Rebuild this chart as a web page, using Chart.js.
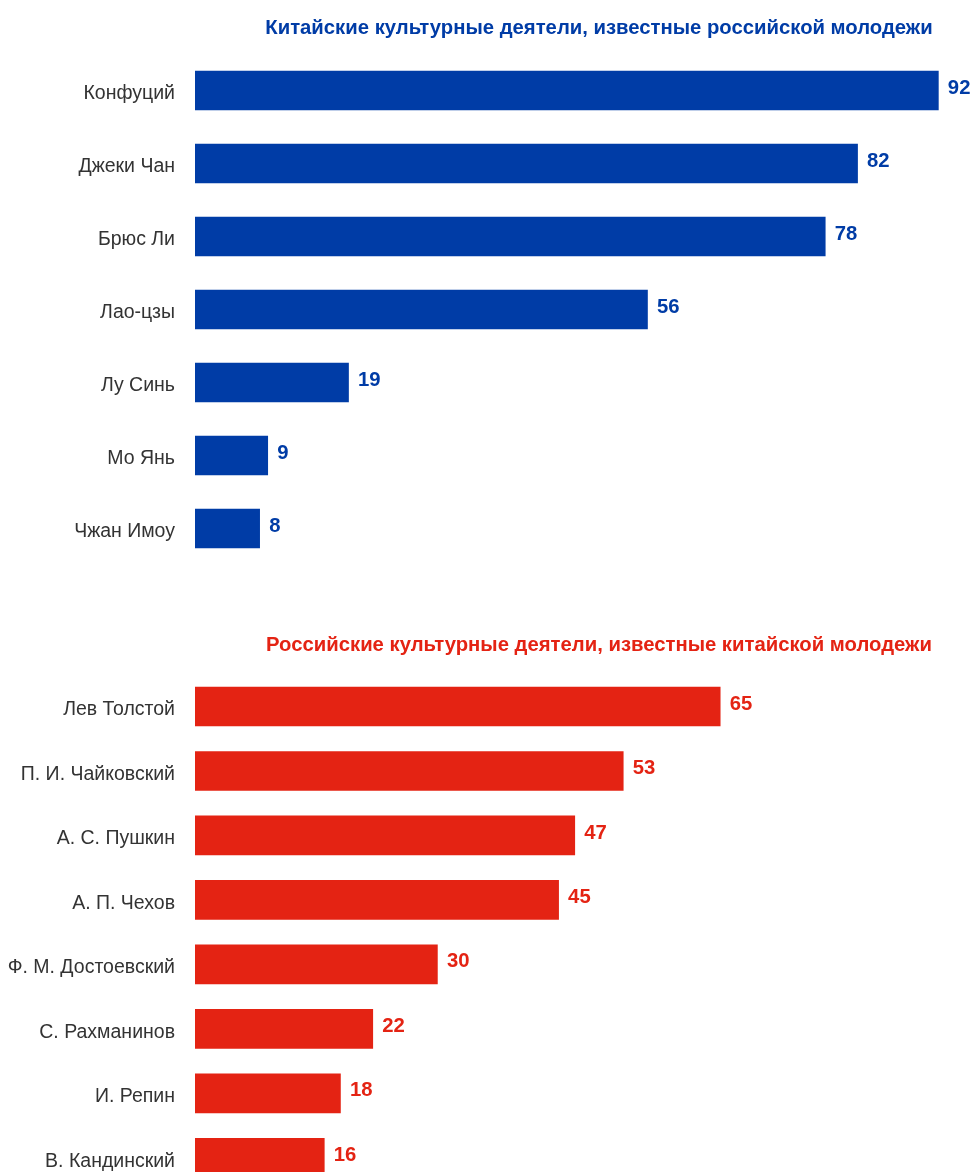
<!DOCTYPE html>
<html>
<head>
<meta charset="utf-8">
<script src="https://cdn.jsdelivr.net/npm/chart.js@4/dist/chart.umd.min.js"></script>
<style>
  html, body { margin: 0; padding: 0; background: #fff; }
  #wrap { width: 972px; height: 1172px; overflow: hidden; position: relative; }
  .box { width: 1010px; position: relative; }
  #topBox { height: 580px; }
  #bottomBox { height: 611px; }
</style>
</head>
<body>
<div id="wrap">
  <div class="box" id="topBox"><canvas id="topChart"></canvas></div>
  <div class="box" id="bottomBox"><canvas id="bottomChart"></canvas></div>
</div>
<script>
// данные
const topTitle = 'Китайские культурные деятели, известные российской молодежи';
const topNames = ['Конфуций', 'Джеки Чан', 'Брюс Ли', 'Лао-цзы', 'Лу Синь', 'Мо Янь', 'Чжан Имоу'];
const topValues = [92, 82, 78, 56, 19, 9, 8];

const bottomTitle = 'Российские культурные деятели, известные китайской молодежи';
const bottomNames = ['Лев Толстой', 'П. И. Чайковский', 'А. С. Пушкин', 'А. П. Чехов',
  'Ф. М. Достоевский', 'С. Рахманинов', 'И. Репин', 'В. Кандинский'];
const bottomValues = [65, 53, 47, 45, 30, 22, 18, 16];

const BLUE = '#003CA6';
const RED = '#E42313';
const FONT = "'Liberation Sans', Arial, sans-serif";

// подписи значений справа от столбцов
const valueLabels = {
  id: 'valueLabels',
  afterDatasetsDraw(chart) {
    const ctx = chart.ctx;
    const ds = chart.data.datasets[0];
    const meta = chart.getDatasetMeta(0);
    ctx.save();
    ctx.font = 'bold 20.3px ' + FONT;
    ctx.fillStyle = ds.backgroundColor;
    ctx.textAlign = 'left';
    ctx.textBaseline = 'middle';
    meta.data.forEach((bar, i) => {
      ctx.fillText(ds.data[i], bar.x + 9.5, bar.y - 2.5);
    });
    ctx.restore();
  }
};

function makeChart(id, names, values, color, title, titlePad, bottomPad) {
  return new Chart(document.getElementById(id), {
    type: 'bar',
    data: {
      labels: names,
      datasets: [{
        data: values,
        backgroundColor: color,
        barThickness: 39
      }]
    },
    options: {
      indexAxis: 'y',
      responsive: true,
      maintainAspectRatio: false,
      animation: false,
      layout: { padding: { left: 0, right: 7, top: 0, bottom: bottomPad } },
      plugins: {
        legend: { display: false },
        tooltip: { enabled: false },
        title: {
          display: true,
          text: title,
          color: color,
          fullSize: false,
          font: { family: FONT, size: 20.3, weight: 'bold' },
          padding: titlePad
        }
      },
      scales: {
        x: { display: false, min: 0, max: 100 },
        y: {
          grid: { display: false, drawTicks: false },
          border: { display: false },
          ticks: {
            color: '#333',
            padding: 20,
            labelOffset: 3.5,
            font: { family: FONT, size: 19.5 }
          },
          afterFit(scale) {
            scale.width = 195;
            scale.paddingTop = 0;
            scale.paddingBottom = 0;
          }
        }
      }
    },
    plugins: [valueLabels]
  });
}

makeChart('topChart', topNames, topValues, BLUE, topTitle, { top: 16, bottom: 13.6 }, 15);
makeChart('bottomChart', bottomNames, bottomValues, RED, bottomTitle, { top: 52.8, bottom: 17.1 }, 1);
</script>
</body>
</html>
